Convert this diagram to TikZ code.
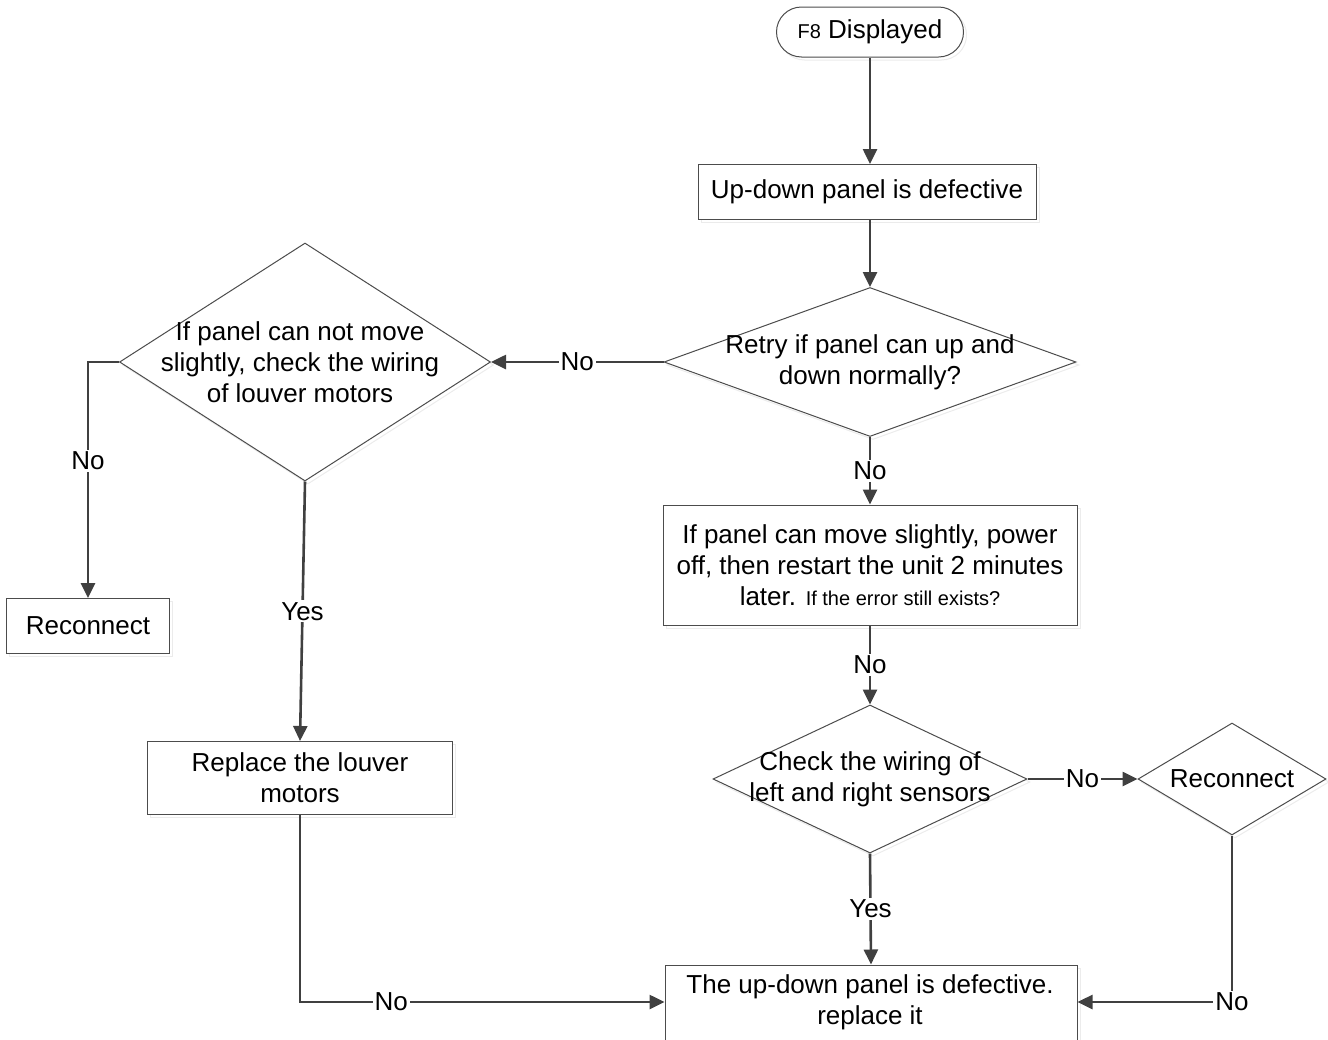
\documentclass[tikz,border=0pt]{standalone}
\usepackage{fontspec}
\setmainfont{Liberation Sans}
\usetikzlibrary{shapes.geometric,arrows.meta,shadows}
\begin{document}
\begin{tikzpicture}[x=1pt,y=-1pt,
  every node/.style={font=\fontsize{26}{31}\selectfont, text=black},
  shp/.style={draw=black!70, line width=1pt, fill=white,
    drop shadow={shadow xshift=3pt, shadow yshift=-3pt, fill=white, draw=black!15, line width=1pt}},
  box/.style={shp, rectangle, inner sep=0pt, align=center},
  term/.style={shp, rectangle, rounded corners=25pt, inner sep=0pt},
  dia/.style={shp, diamond, inner sep=0pt},
  txt/.style={align=center, inner sep=0pt},
  conn/.style={draw=black!75, line width=2.6pt, -{Triangle[length=15pt,width=14pt]}},
  lbl/.style={fill=white, inner sep=2pt}
]
\path[use as bounding box, clip] (0,0) rectangle (1328,1039);

% nodes
\node[term, minimum width=187pt, minimum height=50pt] (start) at (870,32)
  {{\fontsize{20}{24}\selectfont F8} Displayed};
\node[box, minimum width=338pt, minimum height=55pt] (n1) at (867,192)
  {Up-down panel is defective};
\node[dia, minimum width=412pt, minimum height=149pt] (d1) at (870,362) {};
\node[txt] (d1t) at (870,362) {Retry if panel can up and\\down normally?};
\node[dia, minimum width=371pt, minimum height=238pt] (d2) at (305,362) {};
\node[txt] (d2t) at (300,362) {If panel can not move\\slightly, check the wiring\\of louver motors};
\node[box, minimum width=163pt, minimum height=55pt] (r1) at (88,626) {Reconnect};
\node[box, minimum width=305pt, minimum height=73pt] (b2) at (300,778)
  {Replace the louver\\motors};
\node[box, minimum width=414pt, minimum height=120pt] (b3) at (870,565)
  {If panel can move slightly, power\\off, then restart the unit 2 minutes\\later. {\fontsize{20}{24}\selectfont If the error still exists?}};
\node[dia, minimum width=314pt, minimum height=148pt] (d3) at (870,779) {};
\node[txt] (d3t) at (870,779) {Check the wiring of\\left and right sensors};
\node[dia, minimum width=188pt, minimum height=112pt] (d4) at (1232,779) {};
\node[txt] (d4t) at (1232,779) {Reconnect};
\node[box, minimum width=412pt, minimum height=80pt] (bot) at (871,1005) {};
\node[txt] (bott) at (870,1002) {The up-down panel is defective.\\replace it};

% connectors
\draw[conn] (start) -- (start |- n1.north);
\draw[conn] (n1.south -| d1) -- (d1);
\draw[conn] (d1.west) -- node[lbl]{No} (d2.east);
\draw[conn] (d2.west) -| node[lbl, pos=0.71]{No} (r1.north);
\draw[conn] (d2.south) -- node[lbl]{Yes} (b2.north);
\draw[conn] (b2.south) |- node[lbl, pos=0.625]{No} (bot.west |- bott);
\draw[conn] (d1.south) -- node[lbl]{No} (b3.north);
\draw[conn] (b3.south) -- node[lbl]{No} (d3.north);
\draw[conn] (d3.east) -- node[lbl]{No} (d4.west);
\draw[conn] (d3.south) -- node[lbl]{Yes} (bot.north);
\draw[conn] (d4.south) |- node[lbl, pos=0.5]{No} (bot.east |- bott);
\end{tikzpicture}
\end{document}
